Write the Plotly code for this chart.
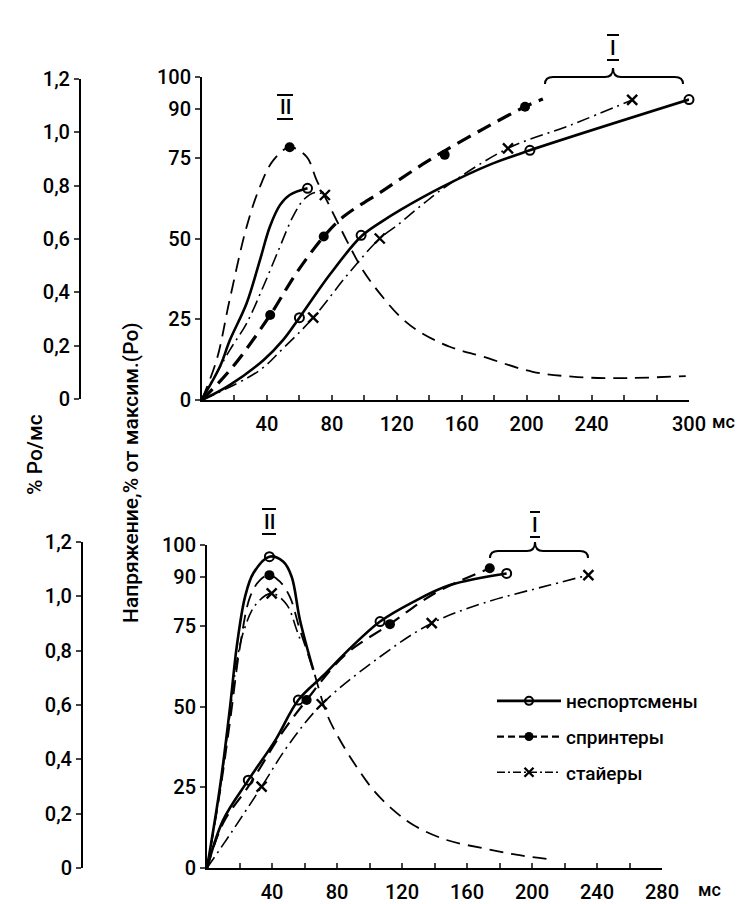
import plotly.graph_objects as go

W, H = 740, 904
FONT = "Roboto, Liberation Sans, sans-serif"

# ---------------- DATA ----------------
# Top panel: force, % of max (Po)
top_non_x = [0, 17, 38, 50, 60, 79, 98, 110, 122, 148, 177, 202, 300]
top_non_y = [0, 4.6, 12.4, 18.6, 25.5, 39.0, 50.6, 55.0, 58.8, 66.0, 72.8, 77.3, 93]
top_non_mx = [60, 98, 202, 300]
top_non_my = [25.5, 51.0, 77.3, 93]

top_spr_x = [0, 19, 42, 58, 75, 87, 112, 136, 150, 175, 199, 210]
top_spr_y = [0, 10.3, 26.3, 39.2, 50.6, 56.7, 65.0, 73.0, 77.3, 84.4, 90.8, 93.2]
top_spr_mx = [42, 75, 149.5, 199]
top_spr_my = [26.3, 50.6, 75.9, 90.8]

top_sta_x = [0, 35, 50, 68.5, 90, 109.5, 120, 134, 150, 188.5, 227, 265]
top_sta_y = [0, 9.0, 16.0, 25.5, 39, 50.0, 54.0, 59.8, 66.0, 77.9, 85.1, 92.9]
top_sta_mx = [68.5, 109.5, 188.5, 265]
top_sta_my = [25.5, 50.0, 77.9, 92.9]

# Top panel: rate of force development, % Po / ms
top_spr_r_x = [0, 9, 17, 27.5, 35.7, 44, 54, 64.4, 70.6, 78.8, 89, 99, 109.5,
               122, 134, 152.6, 173, 203.7, 228, 255, 298]
top_spr_r_y = [0, 0.146, 0.371, 0.646, 0.796, 0.896, 0.944, 0.909, 0.821, 0.721,
               0.596, 0.484, 0.396, 0.309, 0.252, 0.196, 0.159, 0.102, 0.084, 0.078, 0.086]
top_spr_r_mx = [54]
top_spr_r_my = [0.944]

top_non_r_x = [0, 11, 17.2, 27.5, 35.7, 41.8, 48, 54, 65]
top_non_r_y = [0, 0.121, 0.221, 0.359, 0.521, 0.646, 0.727, 0.765, 0.790]
top_non_r_mx = [65]
top_non_r_my = [0.790]

top_sta_r_x = [0, 17.2, 27.5, 37.7, 48, 56, 63, 70, 75.7]
top_sta_r_y = [0, 0.184, 0.284, 0.421, 0.571, 0.684, 0.75, 0.775, 0.765]
top_sta_r_mx = [75.7]
top_sta_r_my = [0.765]

# Bottom panel: force, % of max (Po)
bot_non_x = [0, 10, 25.4, 42, 56.2, 71.6, 86, 106.5, 127, 149.5, 184.4]
bot_non_y = [0, 14.9, 27.2, 39.5, 52, 59.6, 67.0, 76.3, 82.4, 87.6, 91.2]
bot_non_mx = [25.4, 56.2, 106.5, 184.4]
bot_non_my = [27.2, 52, 76.3, 91.2]

bot_spr_x = [0, 10, 26.5, 45, 61.3, 85, 112.6, 140, 174]
bot_spr_y = [0, 14, 26, 41, 52, 66, 75.5, 85, 92.8]
bot_spr_mx = [61.3, 112.6, 174]
bot_spr_my = [52, 75.5, 92.8]

bot_sta_x = [0, 15, 33.6, 50, 70.6, 106.5, 138.3, 170, 211, 234.7]
bot_sta_y = [0, 11, 25.2, 38, 50.7, 65.4, 75.8, 82, 87.6, 90.7]
bot_sta_mx = [33.6, 70.6, 138.3, 234.7]
bot_sta_my = [25.2, 50.7, 75.8, 90.7]

# Bottom panel: rate, % Po / ms
bot_non_r_x = [0, 8, 14.2, 18.3, 23.4, 28.5, 38.4, 47, 52.1, 57.2, 65.4]
bot_non_r_y = [0, 0.299, 0.594, 0.815, 0.998, 1.085, 1.146, 1.127, 1.072, 0.913, 0.729]
bot_non_r_mx = [38.4]
bot_non_r_my = [1.146]

bot_spr_r_x = [0, 8, 14.2, 20.3, 26.5, 32.6, 38.4, 44.9, 51, 57.2, 65.4, 73.6, 81.8,
               92, 102.4, 114.7, 127, 147.5, 170.7, 191.2, 211]
bot_spr_r_y = [0, 0.28, 0.54, 0.815, 0.998, 1.06, 1.078, 1.054, 0.998, 0.876, 0.729,
               0.569, 0.471, 0.373, 0.287, 0.213, 0.158, 0.103, 0.072, 0.048, 0.032]
bot_spr_r_mx = [38.4]
bot_spr_r_my = [1.078]

bot_sta_r_x = [0, 8, 14.2, 18.3, 23, 30, 39.8, 49, 55.2, 58]
bot_sta_r_y = [0, 0.29, 0.57, 0.76, 0.88, 0.97, 1.011, 0.97, 0.876, 0.83]
bot_sta_r_mx = [39.8]
bot_sta_r_my = [1.011]

names = ["неспортсмены", "спринтеры", "стайеры"]

top_x_ticks = list(range(20, 301, 20))
top_x_labels = ["40", "80", "120", "160", "200", "240", "300"]
bot_x_ticks = list(range(20, 281, 20))
bot_x_labels = ["40", "80", "120", "160", "200", "240", "280"]
force_ticks = [0, 25, 50, 75, 90, 100]
rate_ticks = [0, 0.2, 0.4, 0.6, 0.8, 1.0, 1.2]
rate_labels = ["0", "0,2", "0,4", "0,6", "0,8", "1,0", "1,2"]

# ---------------- STYLE ----------------
def px(v):
    return v / W

def py(v):
    return 1 - v / H

SOLID = dict(color="black", width=2.6, dash="solid")
DASH_HEAVY = dict(color="black", width=3.2, dash="15px,8px")
DASH_THIN = dict(color="black", width=1.8, dash="14px,8px")
DASHDOT = dict(color="black", width=1.6, dash="13px,5px,2px,5px")

M_OPEN = dict(symbol="circle-open", size=9, color="black", line=dict(width=2, color="black"))
M_FILL = dict(symbol="circle", size=10, color="black")
M_X = dict(symbol="x-thin", size=10, color="black", line=dict(width=2.4, color="black"))

fig = go.Figure()

def curve(x, y, line, xa, ya):
    fig.add_trace(go.Scatter(x=x, y=y, mode="lines", line=dict(shape="spline", smoothing=1.0, **line),
                             xaxis=xa, yaxis=ya, showlegend=False, hoverinfo="skip"))

def marks(x, y, marker, xa, ya):
    fig.add_trace(go.Scatter(x=x, y=y, mode="markers", marker=marker, cliponaxis=False,
                             xaxis=xa, yaxis=ya, showlegend=False, hoverinfo="skip"))

# top panel
curve(top_spr_r_x, top_spr_r_y, DASH_THIN, "x", "y2")
curve(top_non_r_x, top_non_r_y, SOLID, "x", "y2")
curve(top_sta_r_x, top_sta_r_y, DASHDOT, "x", "y2")
curve(top_non_x, top_non_y, SOLID, "x", "y")
curve(top_spr_x, top_spr_y, DASH_HEAVY, "x", "y")
curve(top_sta_x, top_sta_y, DASHDOT, "x", "y")
marks(top_spr_r_mx, top_spr_r_my, M_FILL, "x", "y2")
marks(top_non_r_mx, top_non_r_my, M_OPEN, "x", "y2")
marks(top_sta_r_mx, top_sta_r_my, M_X, "x", "y2")
marks(top_non_mx, top_non_my, M_OPEN, "x", "y")
marks(top_spr_mx, top_spr_my, M_FILL, "x", "y")
marks(top_sta_mx, top_sta_my, M_X, "x", "y")

# bottom panel
curve(bot_spr_r_x, bot_spr_r_y, DASH_THIN, "x2", "y4")
curve(bot_non_r_x, bot_non_r_y, SOLID, "x2", "y4")
curve(bot_sta_r_x, bot_sta_r_y, DASHDOT, "x2", "y4")
curve(bot_non_x, bot_non_y, SOLID, "x2", "y3")
curve(bot_spr_x, bot_spr_y, dict(DASH_THIN, width=2.2), "x2", "y3")
curve(bot_sta_x, bot_sta_y, DASHDOT, "x2", "y3")
marks(bot_spr_r_mx, bot_spr_r_my, M_FILL, "x2", "y4")
marks(bot_non_r_mx, bot_non_r_my, M_OPEN, "x2", "y4")
marks(bot_sta_r_mx, bot_sta_r_my, M_X, "x2", "y4")
marks(bot_non_mx, bot_non_my, M_OPEN, "x2", "y3")
marks(bot_spr_mx, bot_spr_my, M_FILL, "x2", "y3")
marks(bot_sta_mx, bot_sta_my, M_X, "x2", "y3")

# legend entries
leg_lines = [SOLID, dict(DASH_THIN, width=2.2, dash="7px,4px"), dict(DASHDOT, dash="8px,3px,2px,3px")]
leg_marks = [dict(M_OPEN, size=8), dict(M_FILL, size=9), dict(M_X, size=9)]
for i, (nm, ln, mk) in enumerate(zip(names, leg_lines, leg_marks)):
    fig.add_trace(go.Scatter(x=[None], y=[None], mode="lines+markers", name=nm, line=ln, marker=mk,
                             xaxis="x2", yaxis="y3", legendgroup=str(i), showlegend=True))

tickfont = dict(family=FONT, size=20, color="black", weight=500)
common_x = dict(ticks="inside", ticklen=5, tickwidth=1.5, showline=True, linewidth=2, linecolor="black",
                showgrid=False, zeroline=False, tickfont=tickfont, ticklabelstandoff=5, fixedrange=True)
common_y = dict(ticks="outside", ticklen=5, tickwidth=1.5, showline=True, linewidth=2, linecolor="black",
                showgrid=False, zeroline=False, tickfont=tickfont, fixedrange=True)

def lab(ticks, shown):
    return [str(t) if str(t) in shown else "" for t in ticks]

fig.update_layout(
    width=W, height=H, margin=dict(l=0, r=0, t=0, b=0, autoexpand=False),
    paper_bgcolor="white", plot_bgcolor="rgba(0,0,0,0)",
    font=dict(family=FONT, color="black"),
    xaxis=dict(domain=[px(202), px(689)], range=[0, 300], anchor="y",
               tickvals=top_x_ticks, ticktext=lab(top_x_ticks, top_x_labels), **common_x),
    yaxis=dict(domain=[py(400), py(77)], range=[0, 100], anchor="x",
               tickvals=force_ticks, ticktext=[str(t) for t in force_ticks], **common_y),
    yaxis2=dict(domain=[py(399), py(79)], anchor="free", position=px(80), side="left", range=[0, 1.2],
                tickvals=rate_ticks, ticktext=rate_labels, **common_y),
    xaxis2=dict(domain=[px(207), px(662)], range=[0, 280], anchor="y3",
                tickvals=bot_x_ticks, ticktext=lab(bot_x_ticks, bot_x_labels), **common_x),
    yaxis3=dict(domain=[py(868), py(545)], range=[0, 100], anchor="x2",
                tickvals=force_ticks, ticktext=[str(t) for t in force_ticks], **common_y),
    yaxis4=dict(domain=[py(868), py(542)], anchor="free", position=px(82), side="left", range=[0, 1.2],
                tickvals=rate_ticks, ticktext=rate_labels, **common_y),
    legend=dict(x=px(492), y=py(682), xanchor="left", yanchor="top", bgcolor="rgba(0,0,0,0)",
                font=dict(family=FONT, size=19, color="black", weight=500), tracegroupgap=8, itemwidth=64),
    showlegend=True,
)

ann = []
def text(x, y, s, size=18, angle=0):
    ann.append(dict(x=px(x), y=py(y), xref="paper", yref="paper", text=s, showarrow=False,
                    textangle=angle, font=dict(family=FONT, size=size, color="black", weight=500),
                    xanchor="center", yanchor="middle"))

text(723, 421, "мс", 18)
text(709, 889, "мс", 18)
text(35, 455, "% Po/мс", 21, -90)
text(131, 473, "Напряжение,% от максим.(Ро)", 21, -90)
text(285, 107, "II", 20)
text(613, 48, "I", 20)
text(269, 522, "II", 20)
text(535, 525, "I", 20)
fig.update_layout(annotations=ann)

shapes = []
def bar(xc, y, w):
    shapes.append(dict(type="line", xref="paper", yref="paper", x0=px(xc - w / 2), x1=px(xc + w / 2),
                       y0=py(y), y1=py(y), line=dict(color="black", width=2)))

bar(285, 95, 16); bar(285, 119, 16)
bar(613, 35, 12); bar(613, 60, 12)
bar(269, 509, 14); bar(269, 534, 14)
bar(535, 512, 10); bar(535, 537, 10)

def brace(x0, x1, xm, ybase, yline, ytop, r=8):
    p = (f"M {px(x0)},{py(ybase)} Q {px(x0)},{py(yline)} {px(x0 + r)},{py(yline)} "
         f"L {px(xm - r)},{py(yline)} Q {px(xm)},{py(yline)} {px(xm)},{py(ytop)} "
         f"Q {px(xm)},{py(yline)} {px(xm + r)},{py(yline)} L {px(x1 - r)},{py(yline)} "
         f"Q {px(x1)},{py(yline)} {px(x1)},{py(ybase)}")
    shapes.append(dict(type="path", xref="paper", yref="paper", path=p, line=dict(color="black", width=2)))

brace(545, 683, 613, 84, 77, 68)
brace(490, 588, 535, 558, 551, 542)
fig.update_layout(shapes=shapes)

fig.write_html("out.html")
